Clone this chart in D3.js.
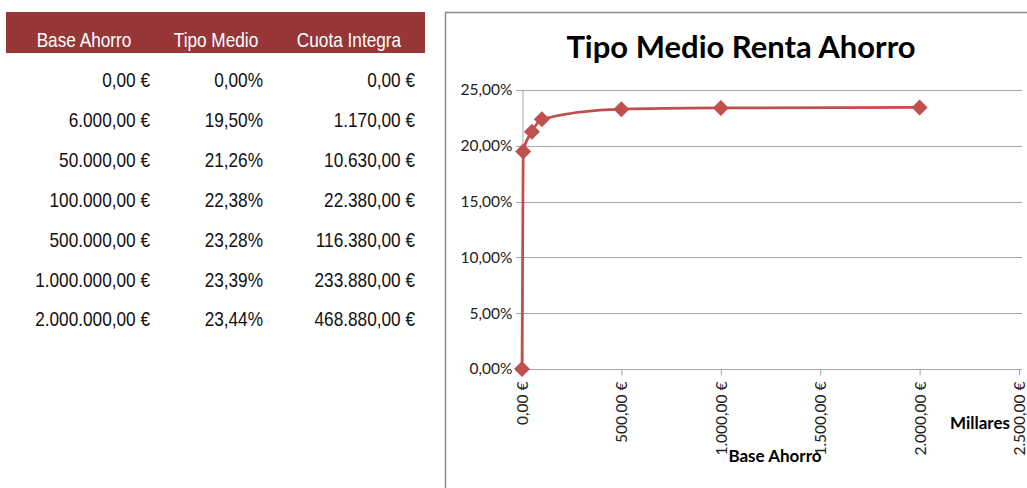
<!DOCTYPE html>
<html>
<head>
<meta charset="utf-8">
<script src="https://cdn.jsdelivr.net/npm/d3@7"></script>
<style>
  body { margin: 0; background: #fff; }
  svg { display: block; }
</style>
</head>
<body>
<script>
// datos de la tabla
const headers = ["Base Ahorro", "Tipo Medio", "Cuota Integra"];
const baseAhorro = [0, 6000, 50000, 100000, 500000, 1000000, 2000000];
const tipoMedio = [0, 19.50, 21.26, 22.38, 23.28, 23.39, 23.44];
const cuotaIntegra = [0, 1170, 10630, 22380, 116380, 233880, 468880];
const yTicks = [0, 5, 10, 15, 20, 25];
const xTicks = [0, 500, 1000, 1500, 2000, 2500];

const W = 1027, H = 488;
const RED = "#C0504D", HEAD = "#963637";
const NARROW = "'Liberation Sans', Arial, sans-serif";
const CAL = "Lato, 'Open Sans', sans-serif";
const SQ = 0.82; // condensar como Arial Narrow

const es = d3.formatLocale({decimal: ",", thousands: ".", grouping: [3], currency: ["", " €"]});
const fmtEur = es.format("$,.2f");
const fmtPct = v => es.format(",.2f")(v) + "%";

const svg = d3.select("body").append("svg").attr("width", W).attr("height", H);

// ---- tabla ----
const colRight = [150, 263, 415];
const colCenter = [84, 216, 349];
const rowY = d3.scaleLinear().domain([0, 6]).range([80, 319]);

svg.append("rect").attr("x", 6).attr("y", 12).attr("width", 419).attr("height", 41).attr("fill", HEAD);
svg.append("g").attr("transform", "scale(" + SQ + ",1)")
  .selectAll("text").data(headers).enter().append("text")
  .attr("x", (d, i) => colCenter[i] / SQ).attr("y", 47)
  .attr("text-anchor", "middle")
  .attr("font-family", NARROW).attr("font-size", 21).attr("fill", "#fff")
  .text(d => d);

const rows = baseAhorro.map((b, i) => [fmtEur(b), fmtPct(tipoMedio[i]), fmtEur(cuotaIntegra[i])]);
const rowG = svg.selectAll("g.row").data(rows).enter().append("g")
  .attr("class", "row")
  .attr("transform", (d, i) => "translate(0," + rowY(i) + ") scale(" + SQ + ",1)");
rowG.selectAll("text").data(d => d).enter().append("text")
  .attr("x", (d, i) => colRight[i] / SQ).attr("y", 0).attr("dy", "0.35em")
  .attr("text-anchor", "end")
  .attr("font-family", NARROW).attr("font-size", 21).attr("fill", "#111")
  .text(d => d);

// ---- grafico ----
svg.append("rect").attr("x", 445.5).attr("y", 12.5).attr("width", 700).attr("height", 600)
  .attr("fill", "#fff").attr("stroke", "#8c8c8c").attr("stroke-width", 1.5);

svg.append("text").attr("x", 741).attr("y", 58).attr("text-anchor", "middle")
  .attr("font-family", CAL).attr("font-weight", "bold").attr("font-size", 31).attr("fill", "#000")
  .text("Tipo Medio Renta Ahorro");

const x = d3.scaleLinear().domain([0, 2500]).range([522, 1019]);
const y = d3.scaleLinear().domain([0, 25]).range([369, 90]);

// grid
svg.append("g").selectAll("line").data(yTicks).enter().append("line")
  .attr("x1", 516).attr("x2", 1022)
  .attr("y1", d => Math.round(y(d)) + 0.5).attr("y2", d => Math.round(y(d)) + 0.5)
  .attr("stroke", "#a6a6a6").attr("stroke-width", 1);

const yAxis = svg.append("g").attr("transform", "translate(522.5,0)")
  .call(d3.axisLeft(y).tickValues(yTicks).tickFormat(fmtPct).tickSize(0).tickPadding(10));
yAxis.select(".domain").attr("stroke", "#a6a6a6");
yAxis.selectAll("text").attr("font-family", CAL).attr("font-size", 15.5).attr("fill", "#222");

const xAxis = svg.append("g").attr("transform", "translate(0,369.5)")
  .call(d3.axisBottom(x).tickValues(xTicks).tickFormat(fmtEur).tickSize(6).tickSizeOuter(0));
xAxis.select(".domain").remove();
xAxis.selectAll("line").attr("stroke", "#a6a6a6");
xAxis.selectAll("text")
  .attr("font-family", CAL).attr("font-size", 15.5).attr("fill", "#222")
  .attr("transform", "rotate(-90)")
  .attr("text-anchor", "end")
  .attr("x", -12).attr("y", 0).attr("dy", "0.35em");

svg.append("text").attr("x", 980).attr("y", 429).attr("text-anchor", "middle")
  .attr("font-family", CAL).attr("font-weight", "bold").attr("font-size", 17).text("Millares");
svg.append("text").attr("x", 775).attr("y", 462).attr("text-anchor", "middle")
  .attr("font-family", CAL).attr("font-weight", "bold").attr("font-size", 17).text("Base Ahorro");

// serie
const pts = baseAhorro.map((b, i) => [b / 1000, tipoMedio[i]]);
const line = d3.line().x(d => x(d[0])).y(d => y(d[1])).curve(d3.curveMonotoneX);
svg.append("path").datum(pts).attr("d", line)
  .attr("fill", "none").attr("stroke", RED).attr("stroke-width", 2.75);

svg.selectAll("path.mk").data(pts).enter().append("path")
  .attr("class", "mk")
  .attr("d", d3.symbol(d3.symbolSquare, 128))
  .attr("transform", d => "translate(" + x(d[0]) + "," + y(d[1]) + ") rotate(45)")
  .attr("fill", RED);
</script>
</body>
</html>
